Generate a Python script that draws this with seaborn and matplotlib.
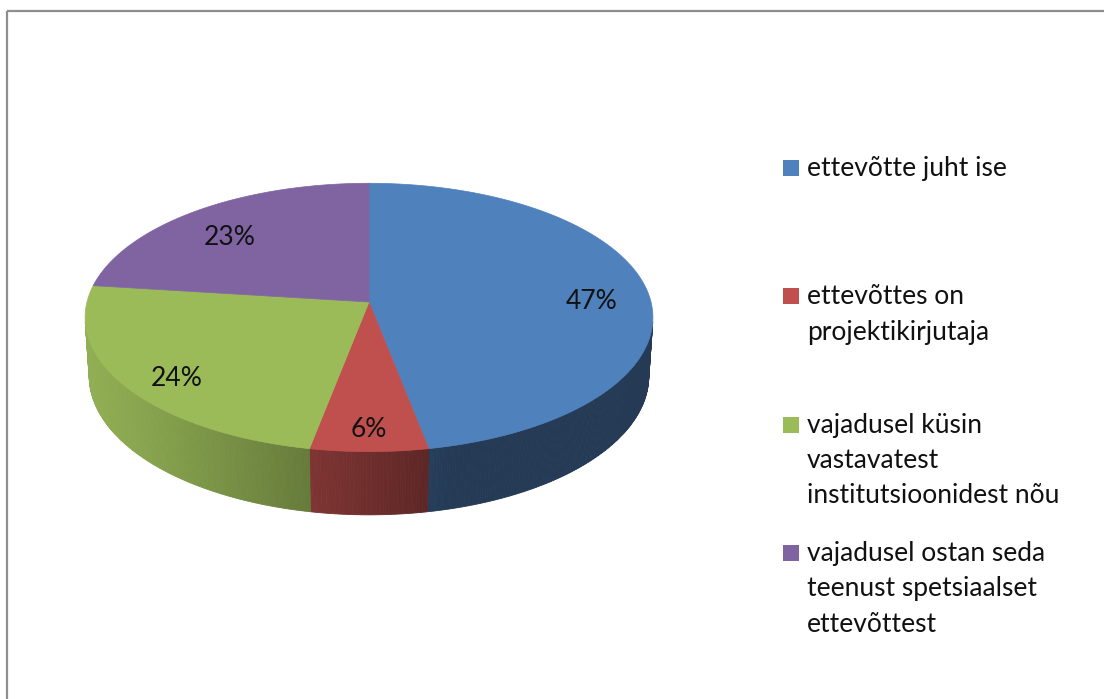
import textwrap
import numpy as np
import matplotlib
matplotlib.use("Agg")
import matplotlib.pyplot as plt
from matplotlib.patches import Polygon, Rectangle
import seaborn as sns

# data
categories = [
    "ettevõtte juht ise",
    "ettevõttes on projektikirjutaja",
    "vajadusel küsin vastavatest institutsioonidest nõu",
    "vajadusel ostan seda teenust spetsiaalset ettevõttest",
]
shares = [47, 6, 24, 23]
colors = ["#4f81bd", "#c0504d", "#9bbb59", "#8064a2"]

sns.set_theme(style="white")
plt.rcParams["font.family"] = ["Lato", "DejaVu Sans"]
palette = sns.color_palette(colors)

# simple perspective camera for an Excel-like 3D pie
PHI = np.radians(28.0)
DIST = 7.67
FOCAL = 2163.0
DEPTH = 0.237
CX, CY = 369.0, 302.0


def proj(x, y, z):
    c, s = np.cos(PHI), np.sin(PHI)
    vx = x
    vy = y + DIST * c
    vz = z - DIST * s
    vf = vy * c - vz * s
    vu = vy * s + vz * c
    return CX + FOCAL * vx / vf, CY - FOCAL * vu / vf


def rim(t0, t1, z, n=120):
    t = np.radians(np.linspace(t0, t1, n))
    xs, ys = proj(np.cos(t), np.sin(t), z)
    return np.column_stack([xs, ys])


def side_shade(theta):
    return 0.45 + 0.48 * max(0.0, np.cos(np.radians(theta - 195.0)))


fig = plt.figure(figsize=(11.04, 6.99), dpi=100)
ax = fig.add_axes([0, 0, 1, 1])
ax.set_xlim(0, 1104)
ax.set_ylim(699, 0)
ax.axis("off")

total = float(sum(shares))
starts = 90 - 360 * np.concatenate([[0], np.cumsum(shares)[:-1]]) / total
ends = starts - 360 * np.array(shares) / total

# visible front part of the side wall (tangent points of the silhouette)
tan_a = np.degrees(np.arcsin(1.0 / (DIST * np.cos(PHI))))
win_lo, win_hi = -180 + tan_a, -tan_a

# side walls
for st, en, col in zip(starts, ends, palette):
    lo, hi = max(en, win_lo), min(st, win_hi)
    if lo >= hi:
        continue
    edges = np.linspace(lo, hi, max(2, int((hi - lo) * 2)))
    for a0, a1 in zip(edges[:-1], edges[1:]):
        k = side_shade((a0 + a1) / 2 + 360)
        fc = tuple(np.clip(np.array(col) * k, 0, 1))
        top = rim(a0, a1, 0, 4)
        bot = rim(a1, a0, -DEPTH, 4)
        ax.add_patch(Polygon(np.vstack([top, bot]), closed=True,
                             facecolor=fc, edgecolor=fc, lw=0.6))

# top face
apex = proj(0, 0, 0)
for st, en, col in zip(starts, ends, palette):
    pts = np.vstack([[apex], rim(st, en, 0, 200)])
    ax.add_patch(Polygon(pts, closed=True, facecolor=col, edgecolor=col, lw=0.5))

# percentage labels
for st, en, v in zip(starts, ends, shares):
    mid = np.radians((st + en) / 2)
    lx, ly = proj(0.8 * np.cos(mid), 0.8 * np.sin(mid), -0.04)
    ax.text(lx, ly, f"{v}%", ha="center", va="center", fontsize=19,
            color="#111111")

# legend, entries evenly spread like Excel
for i, (lab, col) in enumerate(zip(categories, palette)):
    y = 168 + i * 128.3
    ax.add_patch(Rectangle((783, y - 8), 16, 16, facecolor=col, edgecolor="none"))
    ax.text(807, y - 12, textwrap.fill(lab, 22), ha="left", va="top",
            fontsize=19, linespacing=1.52, color="#111111")

# chart area border (only top and left visible in the crop)
ax.plot([7, 1104], [11, 11], color="#8e8e8e", lw=1.6, solid_capstyle="butt")
ax.plot([7, 7], [11, 699], color="#8e8e8e", lw=1.6, solid_capstyle="butt")

fig.savefig("out.png", dpi=100)
